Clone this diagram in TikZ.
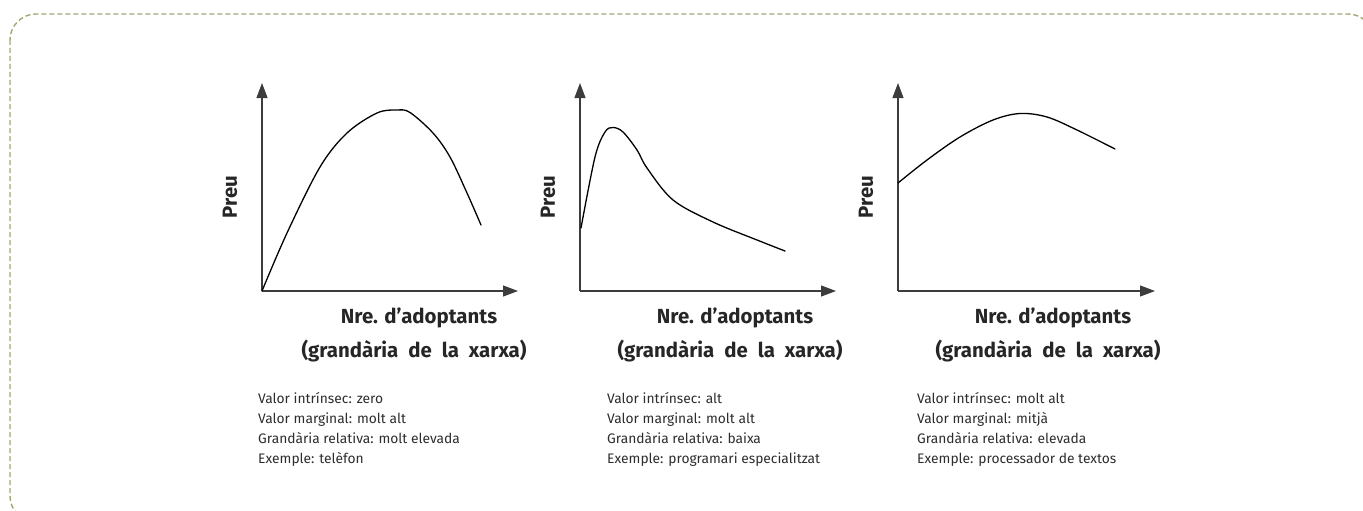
\documentclass[tikz,border=0pt]{standalone}
\usepackage{fontspec}
\setmainfont{Fira Sans}
\usetikzlibrary{arrows.meta}
\definecolor{framecol}{RGB}{165,165,115}
\definecolor{axisgray}{RGB}{60,60,60}
\definecolor{txtgray}{RGB}{45,45,45}
\newcommand\mywordgap{\spaceskip=10pt\relax}
\begin{document}
\begin{tikzpicture}[x=1pt,y=-1pt,
  axis/.style={draw=axisgray,line width=1.1pt,-{Triangle[length=15pt,width=11pt]}},
  curve/.style={draw=black,line width=1.3pt,line join=round,line cap=round},
  ylab/.style={font=\fontsize{20.4}{22}\selectfont\bfseries,rotate=90,text=black!85,inner sep=0},
  xlab/.style={font=\fontsize{20.4}{22}\selectfont\bfseries,text=black!85,anchor=base,inner sep=0},
  xlabwide/.style={xlab,execute at begin node=\mywordgap},
  info/.style={font=\fontsize{13.8}{18}\selectfont,text=txtgray,anchor=base west,inner sep=0},
  frameline/.style={draw=framecol,line width=1.4pt,dash pattern=on 5pt off 3pt,rounded corners=26pt}]
\useasboundingbox (0,0) rectangle (1363,511);
\draw[frameline] (10,14) rectangle (1374,522);

% ---------- graph 1
\coordinate (o1) at (262,291);
\coordinate (y1) at (262,83);
\coordinate (x1) at (518,291);
\draw[axis] (o1) -- (y1);
\draw[axis] (o1) -- (x1);
\draw[curve] plot[smooth,tension=0.55] coordinates {(262,291) (287,233) (320,167) (347,133) (377,113) (397,110) (410,112.5) (433,133) (450,157) (467,193) (481,225)};
\node[ylab] (p1) at (230,197) {Preu};
\node[xlab] (n1) at (419,323) {Nre. d’adoptants};
\node[xlabwide] (g1) at (414,357) {(grandària de la xarxa)};
\node[info] (a1) at (258,403) {Valor intrínsec: zero};
\node[info] (b1) at (258,423) {Valor marginal: molt alt};
\node[info] (c1) at (258,443) {Grandària relativa: molt elevada};
\node[info] (d1) at (258,463) {Exemple: telèfon};

% ---------- graph 2
\coordinate (o2) at (580,291);
\coordinate (y2) at (580,83);
\coordinate (x2) at (836,291);
\draw[axis] (o2) -- (y2);
\draw[axis] (o2) -- (x2);
\draw[curve] plot[smooth,tension=0.55] coordinates {(581,228) (595,157) (605,132) (613,127.5) (623,132) (637,150) (647,168) (673,200) (713,222) (757,240) (785,251)};
\node[ylab] (p2) at (548,197) {Preu};
\node[xlab] (n2) at (735,323) {Nre. d’adoptants};
\node[xlabwide] (g2) at (730,357) {(grandària de la xarxa)};
\node[info] (a2) at (607,403) {Valor intrínsec: alt};
\node[info] (b2) at (607,423) {Valor marginal: molt alt};
\node[info] (c2) at (607,443) {Grandària relativa: baixa};
\node[info] (d2) at (607,463) {Exemple: programari especialitzat};

% ---------- graph 3
\coordinate (o3) at (898,291);
\coordinate (y3) at (898,83);
\coordinate (x3) at (1155,291);
\draw[axis] (o3) -- (y3);
\draw[axis] (o3) -- (x3);
\draw[curve] plot[smooth,tension=0.55] coordinates {(898,183) (927,160) (960,137) (993,120) (1020,113.5) (1047,117) (1077,130) (1115,149)};
\node[ylab] (p3) at (866,197) {Preu};
\node[xlab] (n3) at (1053,323) {Nre. d’adoptants};
\node[xlabwide] (g3) at (1048,357) {(grandària de la xarxa)};
\node[info] (a3) at (917,403) {Valor intrínsec: molt alt};
\node[info] (b3) at (917,423) {Valor marginal: mitjà};
\node[info] (c3) at (917,443) {Grandària relativa: elevada};
\node[info] (d3) at (917,463) {Exemple: processador de textos};
\end{tikzpicture}
\end{document}
